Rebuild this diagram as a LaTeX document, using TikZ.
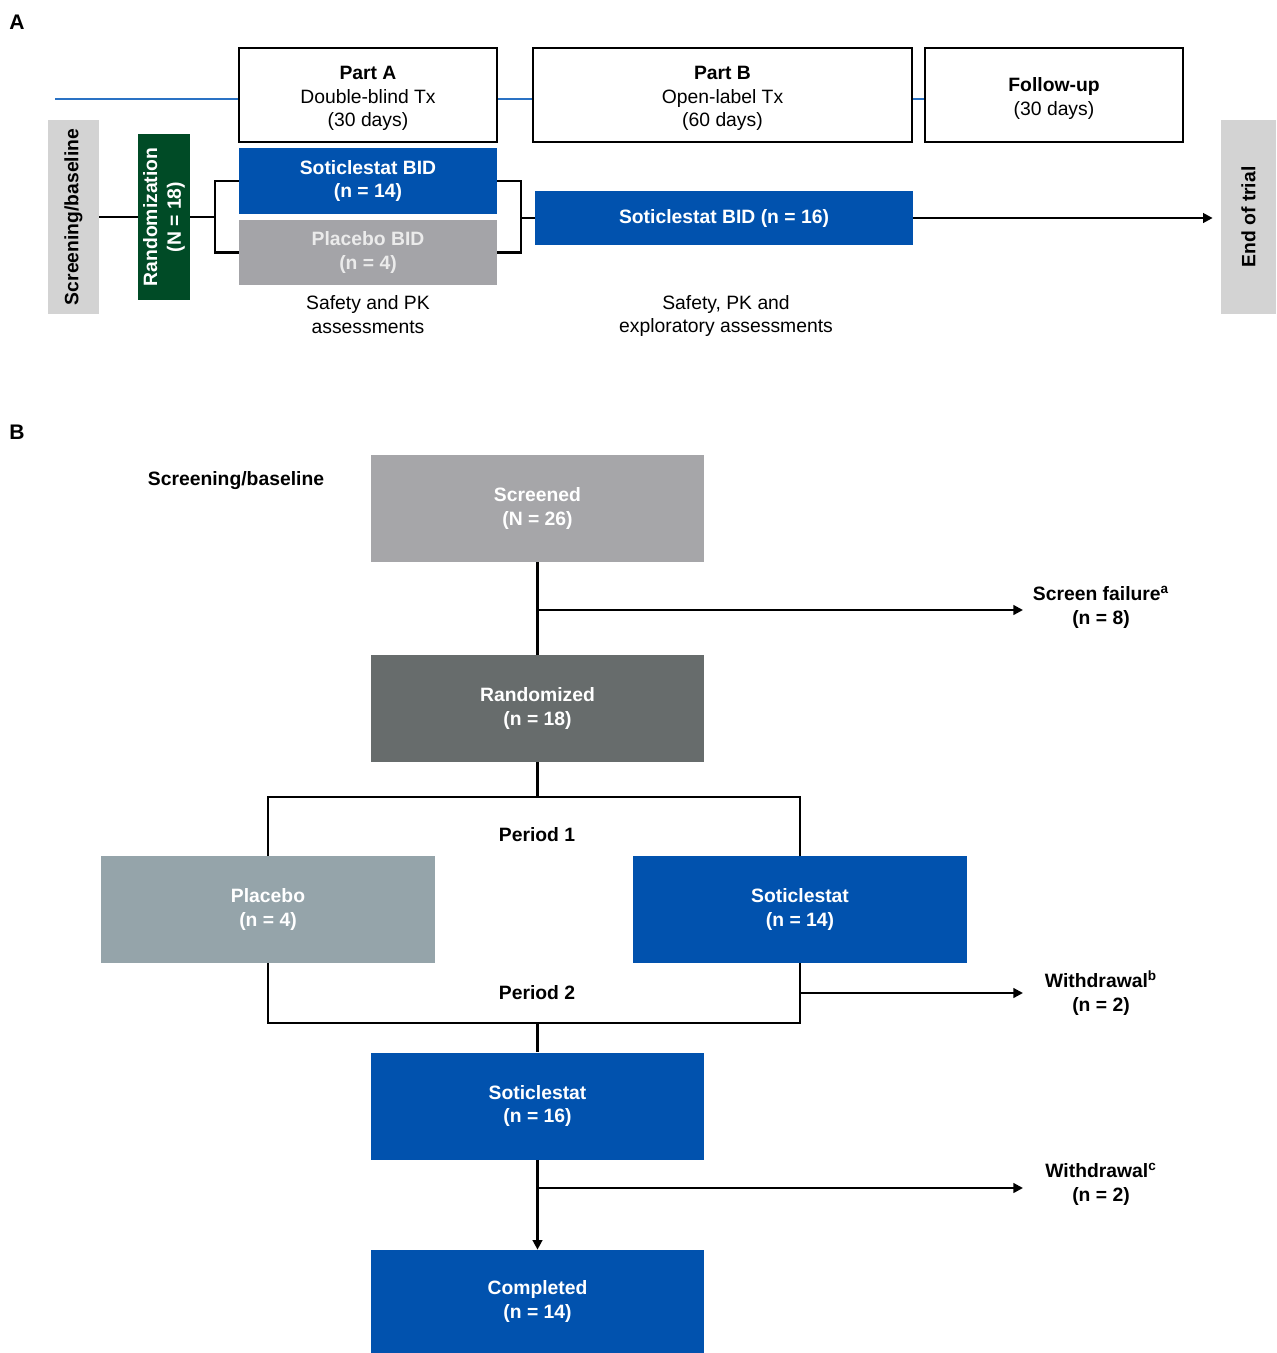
\documentclass[tikz,border=0pt]{standalone}
\usepackage{fontspec}
\setmainfont{Liberation Sans}
\usepackage{xcolor}
\usepackage{tikz}
\usetikzlibrary{
    positioning,
    calc,
    arrows.meta
}
\definecolor{sotiblue}{RGB}{1,82,174}
\definecolor{placgray}{RGB}{164,164,168}
\definecolor{scrgray}{RGB}{166,166,169}
\definecolor{randgray}{RGB}{103,108,108}
\definecolor{placblue}{RGB}{149,164,170}
\definecolor{randgreen}{RGB}{0,75,38}
\definecolor{sidegray}{RGB}{211,211,211}
\definecolor{lineblue}{RGB}{42,114,196}
\newcommand{\topstrut}{\rule{0pt}{11.5pt}}
\tikzset{
  basic/.style = {
      rectangle,
      inner sep=0pt,
      align=center,
      font=\fontsize{11}{13.6}\selectfont
  },
  frame/.style = {
      basic,
      draw=black,
      line width=1.4pt,
      fill=white
  },
  arm/.style = {
      basic,
      text=white,
      font=\fontsize{11}{13.6}\selectfont\bfseries
  },
  side/.style = {
      arm,
      text=black,
      fill=sidegray,
      rotate=90,
      minimum width=3.88cm
  },
  bigbox/.style = {
      arm,
      minimum width=6.68cm,
      minimum height=2.14cm
  },
  note/.style = {
      basic
  },
  tag/.style = {
      basic,
      font=\fontsize{11}{13.6}\selectfont\bfseries
  },
  panel/.style = {
      basic,
      font=\fontsize{12}{14}\selectfont\bfseries
  },
  edge/.style = {
      line width=1.3pt
  },
  arrowedge/.style = {
      edge,
      -{Triangle[length=5.5pt, width=5.5pt]}
  },
  timeline/.style = {
      draw=lineblue,
      line width=1.3pt
  }
}

\begin{document}
\begin{tikzpicture}[x=0.02cm, y=-0.02cm]
        \useasboundingbox (0,0) rectangle (1276,1353);
        % Panel A
        \node[panel] (pa) at (17,22) {A};
        \coordinate (tl) at (55,99);
        \node[frame, minimum width=5.16cm, minimum height=1.88cm] (partA) at (368,95)
            {\topstrut\textbf{Part A}\\Double-blind Tx\\(30 days)};
        \node[frame, minimum width=7.58cm, minimum height=1.88cm] (partB) at (722.5,95)
            {\topstrut\textbf{Part B}\\Open-label Tx\\(60 days)};
        \node[frame, minimum width=5.16cm, minimum height=1.88cm] (follow) at (1054,95)
            {\topstrut\textbf{Follow-up}\\(30 days)};
        \path[timeline] (tl) -- (partA.west |- tl);
        \path[timeline] (partA.east |- tl) -- (partB.west |- tl);
        \path[timeline] (partB.east |- tl) -- (follow.west |- tl);
        \node[side, minimum height=1.02cm] (screenA) at (73.5,217) {Screening/baseline};
        \node[arm, fill=randgreen, rotate=90, minimum width=3.32cm, minimum height=1.04cm]
            (randA) at (164,217) {Randomization\\(N = 18)};
        \node[arm, fill=sotiblue, minimum width=5.16cm, minimum height=1.32cm]
            (sotiA) at (368,181) {Soticlestat BID\\(n = 14)};
        \node[arm, fill=placgray, text=white!92!black, minimum width=5.16cm, minimum height=1.30cm]
            (placA) at (368,252.5) {Placebo BID\\(n = 4)};
        \node[arm, fill=sotiblue, minimum width=7.56cm, minimum height=1.08cm]
            (sotiOL) at (724,218) {Soticlestat BID (n = 16)};
        \node[side, minimum height=1.10cm] (endA) at (1248.5,217) {End of trial};
        \node[note] (safeA) at (368,315) {Safety and PK\\assessments};
        \node[note] (safeB) at (726,316) {Safety, PK and\\exploratory assessments};
        \coordinate (splitA) at (215,217);
        \coordinate (joinA) at (521,218);
        % Edges
        \path[draw, edge] (screenA.south) -- (randA.north);
        \path[draw, edge] (randA.south) -- (splitA);
        \path[draw, edge] (sotiA.west) -| (splitA) |- (placA.west);
        \path[draw, edge] (sotiA.east) -| (joinA) |- (placA.east);
        \path[draw, edge] (joinA) -- (sotiOL.west);
        \path[draw, arrowedge, shorten >=0.16cm] (sotiOL.east) -- (sotiOL.east -| endA.north);
        % Panel B
        \node[panel] (pb) at (17,432) {B};
        \node[tag] (scrlbl) at (236,481) {Screening/baseline};
        \node[bigbox, fill=scrgray] (screened) at (537.5,508.5) {Screened\\(N = 26)};
        \node[bigbox, fill=randgray] (randB) at (537.5,708.5) {Randomized\\(n = 18)};
        \node[bigbox, fill=placblue] (placB) at (268,909.5) {Placebo\\(n = 4)};
        \node[bigbox, fill=sotiblue] (sotiB) at (800,909.5) {Soticlestat\\(n = 14)};
        \node[bigbox, fill=sotiblue] (sotiC) at (537.5,1106) {Soticlestat\\(n = 16)};
        \node[bigbox, fill=sotiblue, minimum height=2.06cm] (done) at (537.5,1301.5)
            {Completed\\(n = 14)};
        \node[tag] (per1) at (537,835) {Period 1};
        \node[tag] (per2) at (537,993) {Period 2};
        \node[tag] (fail) at (1101,607) {Screen failure\textsuperscript{a}\\(n = 8)};
        \node[tag] (wdb) at (1101,993) {Withdrawal\textsuperscript{b}\\(n = 2)};
        \node[tag] (wdc) at (1101,1184) {Withdrawal\textsuperscript{c}\\(n = 2)};
        \coordinate (failend) at (1023,610);
        \coordinate (wdbend) at (1023,993);
        \coordinate (wdcend) at (1023,1188);
        \coordinate (p1top) at (537.5,797);
        \coordinate (p2bot) at (537.5,1023);
        % Edges
        \path[draw, edge] (screened.south) -- (randB.north);
        \path[draw, arrowedge] (screened.south |- failend) -- (failend);
        \path[draw, edge] (randB.south) -- (p1top);
        \path[draw, edge] (placB.north) |- (p1top) -| (sotiB.north);
        \path[draw, edge] (placB.south) |- (p2bot) -| (sotiB.south);
        \path[draw, arrowedge] (sotiB.south |- wdbend) -- (wdbend);
        \path[draw, edge] (p2bot) -- (sotiC.north);
        \path[draw, arrowedge] (sotiC.south) -- (done.north);
        \path[draw, arrowedge] (sotiC.south |- wdcend) -- (wdcend);
    \end{tikzpicture}
\end{document}
